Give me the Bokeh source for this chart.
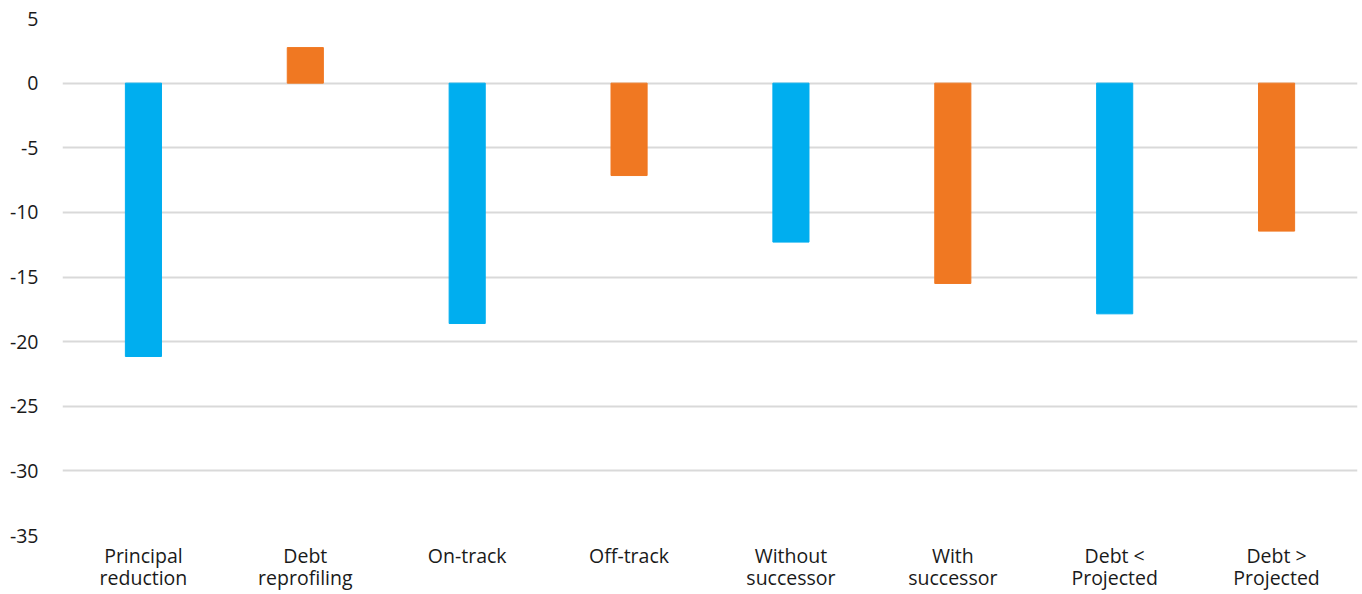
from bokeh.plotting import figure
from bokeh.models import FactorRange, Range1d, FixedTicker, ColumnDataSource
from bokeh.embed import file_html
from bokeh.resources import INLINE

categories = ["Principal\nreduction", "Debt\nreprofiling", "On-track", "Off-track",
              "Without\nsuccessor", "With\nsuccessor", "Debt <\nProjected", "Debt >\nProjected"]
values = [-21.15, 2.75, -18.6, -7.15, -12.3, -15.5, -17.85, -11.45]
colors = ["#00AEEF", "#F07822", "#00AEEF", "#F07822", "#00AEEF", "#F07822", "#00AEEF", "#F07822"]
y_ticks = [5, 0, -5, -10, -15, -20, -25, -30, -35]
y_tick_labels = {t: str(t) for t in y_ticks}

src = ColumnDataSource(dict(cat=categories, val=values, color=colors))

p = figure(width=1362, height=594, x_range=FactorRange(*categories, range_padding=0),
           y_range=Range1d(-35, 5), output_backend="svg", toolbar_location=None,
           min_border_left=62, min_border_right=5, min_border_top=18, min_border_bottom=56)
p.vbar(x="cat", top="val", bottom=0, width=0.223, color="color", source=src)

p.outline_line_color = None
p.xgrid.grid_line_color = None
p.ygrid.grid_line_color = "#d9d9d9"
p.ygrid.grid_line_width = 2
p.yaxis.ticker = FixedTicker(ticks=y_ticks)
p.yaxis.major_label_overrides = y_tick_labels
for ax in (p.xaxis, p.yaxis):
    ax.axis_line_color = None
    ax.major_tick_line_color = None
    ax.minor_tick_line_color = None
    ax.major_label_text_font = "Open Sans"
    ax.major_label_text_font_size = "19.5px"
    ax.major_label_text_color = "#1a1a1a"
p.xaxis.major_label_text_line_height = 0.84
p.yaxis.major_label_standoff = 18
p.xaxis.major_label_standoff = 0

open("out.html", "w").write(file_html(p, INLINE))
